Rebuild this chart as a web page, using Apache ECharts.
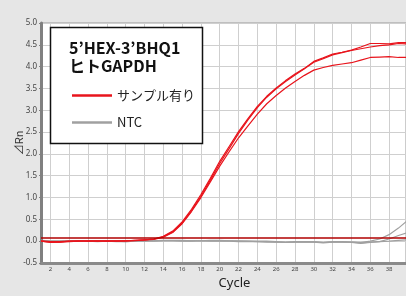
<!DOCTYPE html>
<html><head><meta charset="utf-8">
<script src="https://cdn.jsdelivr.net/npm/echarts@6/dist/echarts.min.js"></script>
<style>html,body{margin:0;padding:0;background:#e6e6e6}#c{width:406px;height:296px}</style>
</head><body><div id="c"></div>
<script>
const cycles = [1,2,3,4,5,6,7,8,9,10,11,12,13,14,15,16,17,18,19,20,21,22,23,24,25,26,27,28,29,30,31,32,33,34,35,36,37,38,39,40];
const threshold = 0.07;
const sampleA = [0.00,-0.02,-0.02,0.00,0.01,0.00,0.00,0.01,0.00,0.00,0.02,0.03,0.05,0.11,0.23,0.44,0.73,1.07,1.44,1.83,2.17,2.51,2.81,3.09,3.32,3.51,3.68,3.83,3.96,4.12,4.20,4.29,4.33,4.38,4.45,4.53,4.53,4.52,4.55,4.55];
const sampleB = [0.01,-0.01,-0.01,0.00,0.00,0.01,0.00,0.00,0.01,0.01,0.01,0.03,0.05,0.10,0.21,0.41,0.70,1.03,1.40,1.78,2.12,2.47,2.78,3.06,3.30,3.49,3.66,3.81,3.95,4.10,4.18,4.27,4.32,4.37,4.41,4.45,4.48,4.50,4.53,4.52];
const sampleC = [0.00,-0.03,-0.02,-0.01,0.00,0.00,0.01,0.00,0.00,0.01,0.02,0.03,0.04,0.09,0.20,0.40,0.68,1.00,1.36,1.72,2.05,2.37,2.64,2.91,3.15,3.34,3.51,3.66,3.80,3.92,3.98,4.03,4.06,4.09,4.15,4.21,4.22,4.23,4.21,4.21];
const ntc1 = [0.02,0.01,0.00,0.01,0.01,0.00,0.01,0.00,0.00,-0.01,0.00,0.01,0.01,0.02,0.02,0.02,0.01,0.01,0.02,0.02,0.01,0.01,0.00,0.00,0.00,-0.01,-0.02,-0.01,-0.01,-0.01,-0.03,-0.01,-0.01,-0.02,-0.03,0.00,0.05,0.15,0.30,0.48];
const ntc2 = [0.01,0.00,0.00,0.00,0.00,0.00,-0.01,0.00,-0.01,-0.01,0.00,0.00,0.01,0.01,0.01,0.01,0.01,0.01,0.01,0.01,0.01,0.00,0.00,-0.01,-0.01,-0.02,-0.03,-0.02,-0.02,-0.02,-0.04,-0.02,-0.02,-0.03,-0.05,-0.03,-0.01,0.05,0.13,0.20];
const ntc3 = [0.00,-0.01,0.00,0.01,0.00,0.00,0.00,0.01,0.00,0.00,0.00,0.01,0.00,0.01,0.01,0.00,0.00,0.01,0.00,0.00,0.00,-0.01,-0.01,-0.01,-0.02,-0.02,-0.03,-0.02,-0.02,-0.02,-0.03,-0.02,-0.02,-0.02,-0.04,-0.02,-0.01,0.00,0.02,0.03];
const sampleName = 'サンプル有り';
const ntcName = 'NTC';

const pair = arr => cycles.map((c,i)=>[c,arr[i]]);
const red = '#e8141c', gray = '#a0a0a0';
function ser(name, arr, color, z){
  return {name, type:'line', data:pair(arr), showSymbol:false, symbol:'none', smooth:false,
    lineStyle:{color, width:1.2}, itemStyle:{color}, z, animation:false};
}
const series = [
  ser(ntcName, ntc1, gray, 2), ser(ntcName, ntc2, gray, 2), ser(ntcName, ntc3, gray, 2),
  ser(sampleName, sampleA, red, 3), ser(sampleName, sampleB, red, 3), ser(sampleName, sampleC, red, 3)
];
series[5].markLine = {silent:true, symbol:'none', label:{show:false}, animation:false,
  lineStyle:{color:'#b00000', width:1.6, type:'solid'}, data:[{yAxis:threshold}]};

const chart = echarts.init(document.getElementById('c'));
chart.setOption({
  backgroundColor:'#e6e6e6',
  animation:false,
  grid:{left:41, right:0, top:23, bottom:33, show:true, z:-1, backgroundColor:'#fff', borderColor:'#999', borderWidth:1},
  xAxis:{type:'value', min:1, max:39.8, splitNumber:19, minInterval:2, maxInterval:2,
    name:'Cycle', nameLocation:'middle', nameGap:14, nameMoveOverlap:false,
    nameTextStyle:{fontSize:13, color:'#222', fontFamily:'Noto Sans', padding:[0,0,0,22]},
    axisLine:{show:true, onZero:false, lineStyle:{color:'#8a8a8a', width:3}},
    axisTick:{show:false},
    axisLabel:{fontSize:6, color:'#444', margin:3, fontFamily:'Noto Sans', showMinLabel:false, showMaxLabel:false},
    splitLine:{show:true, lineStyle:{color:'#cfcfcf', width:1, type:'solid'}}
  },
  yAxis:{type:'value', min:-0.5, max:5.0, interval:0.5,
    name:'⊿Rn', nameLocation:'middle', nameGap:17, nameRotate:90, nameMoveOverlap:false,
    nameTextStyle:{fontSize:11, color:'#333', fontFamily:'Noto Sans CJK JP'},
    axisLine:{show:true, lineStyle:{color:'#808080', width:3}},
    axisTick:{show:true, length:2, lineStyle:{color:'#808080'}},
    axisLabel:{fontSize:8, color:'#444', margin:4, fontFamily:'Noto Sans', formatter:v=>v.toFixed(1)},
    splitLine:{show:true, lineStyle:{color:'#cfcfcf', width:1}}
  },
  legend:{data:[sampleName, ntcName], orient:'vertical', left:67, top:84, itemWidth:40, itemHeight:2.5, icon:'rect',
    itemGap:14, textStyle:{fontSize:13, color:'#222', fontFamily:'Noto Sans CJK JP'}, selectedMode:false, z:20},
  graphic:[
    {type:'rect', shape:{x:50.5, y:27.5, width:152, height:116}, style:{fill:'#fff', stroke:'#111', lineWidth:1.5}, z:10},
    {type:'text', left:69, top:39, style:{text:'5’HEX-3’BHQ1\nヒトGAPDH', fontSize:16, fontWeight:'bold', fill:'#111', fontFamily:'Noto Sans CJK JP', lineHeight:18}, z:11}
  ],
  series
});
</script></body></html>
